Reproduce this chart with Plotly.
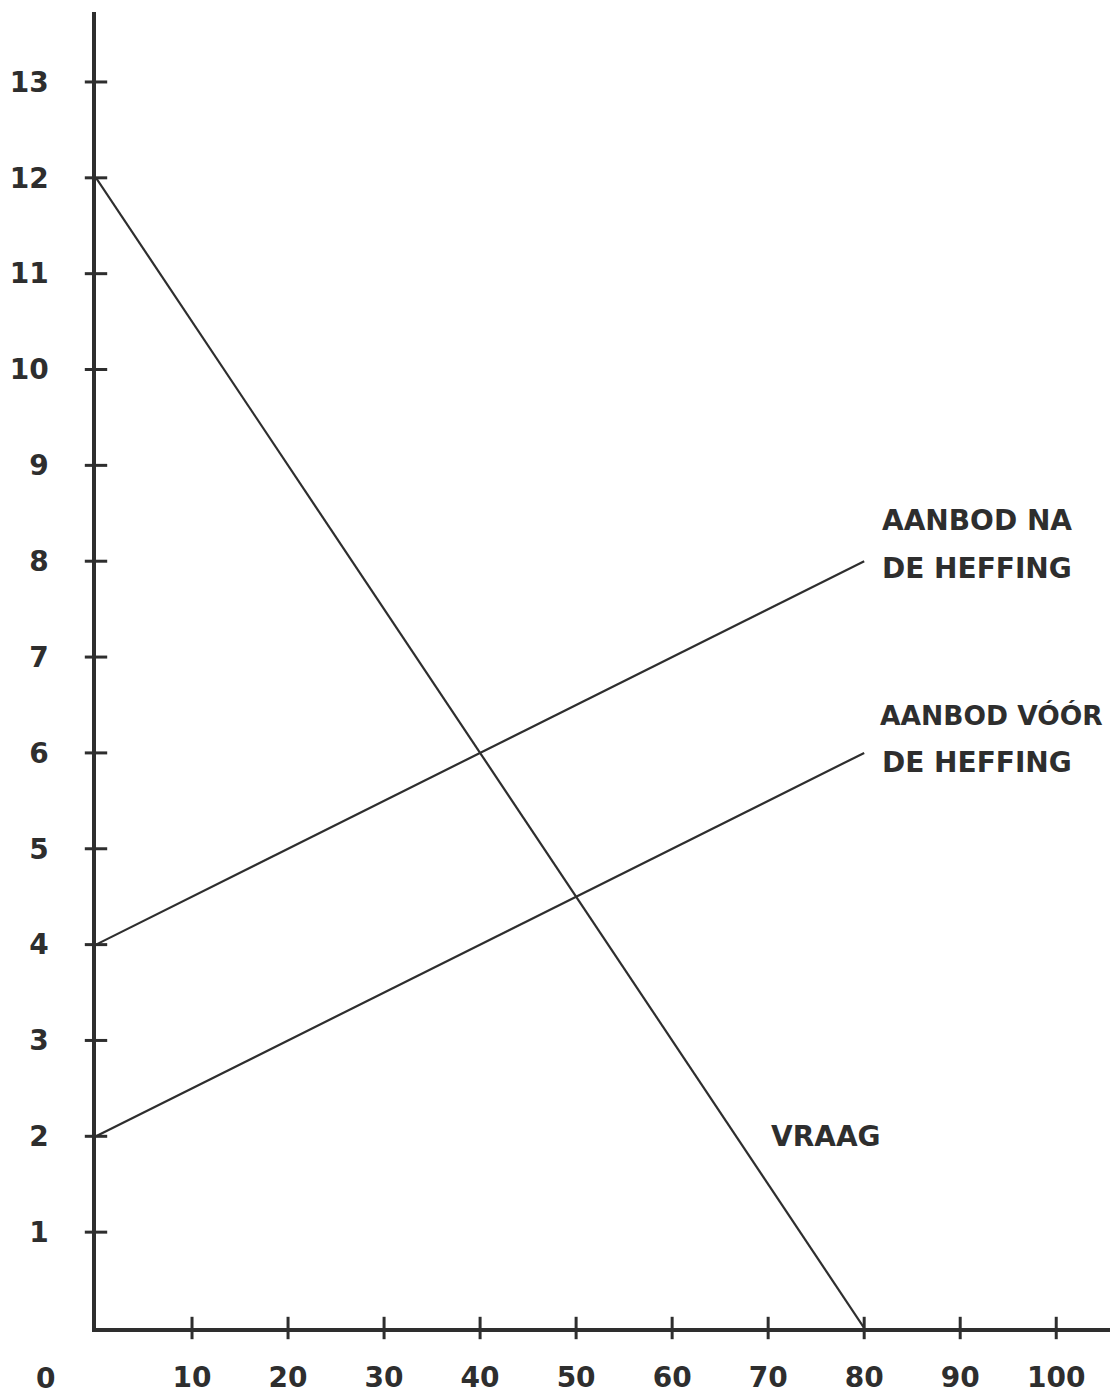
import plotly.graph_objects as go

# Data
quantity = [0, 80]
demand = [12, 0]            # VRAAG
supply_before = [2, 6]      # AANBOD VÓÓR DE HEFFING
supply_after = [4, 8]       # AANBOD NA DE HEFFING

x_ticks = [10, 20, 30, 40, 50, 60, 70, 80, 90, 100]
y_ticks = [1, 2, 3, 4, 5, 6, 7, 8, 9, 10, 11, 12, 13]

INK = "#2e2e2e"
FONT = dict(family="DejaVu Sans", size=28, color=INK, weight="bold")

fig = go.Figure()
for ys in (demand, supply_before, supply_after):
    fig.add_trace(go.Scatter(x=quantity, y=ys, mode="lines",
                             line=dict(color=INK, width=2.2), showlegend=False,
                             hoverinfo="skip"))

# crossing tick marks
fig.add_trace(go.Scatter(x=[0] * len(y_ticks), y=y_ticks, mode="markers",
                         marker=dict(symbol="line-ew", size=16,
                                     line=dict(color=INK, width=3)),
                         showlegend=False, hoverinfo="skip", cliponaxis=False))
fig.add_trace(go.Scatter(x=x_ticks, y=[0] * len(x_ticks), mode="markers",
                         marker=dict(symbol="line-ns", size=16,
                                     line=dict(color=INK, width=3)),
                         showlegend=False, hoverinfo="skip", cliponaxis=False))

ann = [
    ("AANBOD NA", 81.6, 8.42, 28),
    ("DE HEFFING", 81.6, 7.92, 28),
    ("AANBOD VÓÓR", 81.4, 6.39, 26.5),
    ("DE HEFFING", 81.6, 5.9, 28),
    ("VRAAG", 70.1, 2.0, 28),
]
for txt, x, y, sz in ann:
    fig.add_annotation(x=x, y=y, text=txt, showarrow=False, xanchor="left",
                       yanchor="middle", font=dict(FONT, size=sz))
# origin label, placed in paper coordinates below-left of the axes
fig.add_annotation(x=-0.05, y=-0.038, xref="paper", yref="paper", text="0",
                   showarrow=False, xanchor="center", yanchor="middle", font=FONT)

fig.update_layout(
    width=1110, height=1396,
    margin=dict(l=96, r=0, t=12, b=68),
    plot_bgcolor="white", paper_bgcolor="white",
    font=FONT,
    xaxis=dict(range=[0, 105.6], showgrid=False, zeroline=False,
               showline=True, linecolor=INK, linewidth=3.5,
               tickvals=x_ticks, ticks="", ticklabelstandoff=22,
               tickfont=FONT, automargin=False),
    yaxis=dict(range=[0, 13.73], showgrid=False, zeroline=False,
               showline=True, linecolor=INK, linewidth=3.5,
               tickvals=y_ticks, ticks="", ticklabelstandoff=38,
               tickfont=FONT, automargin=False),
)

fig.write_html("out.html",
               config={"displayModeBar": False},
               post_script="document.body.style.margin='0';"
                           "document.body.style.overflow='hidden';")
